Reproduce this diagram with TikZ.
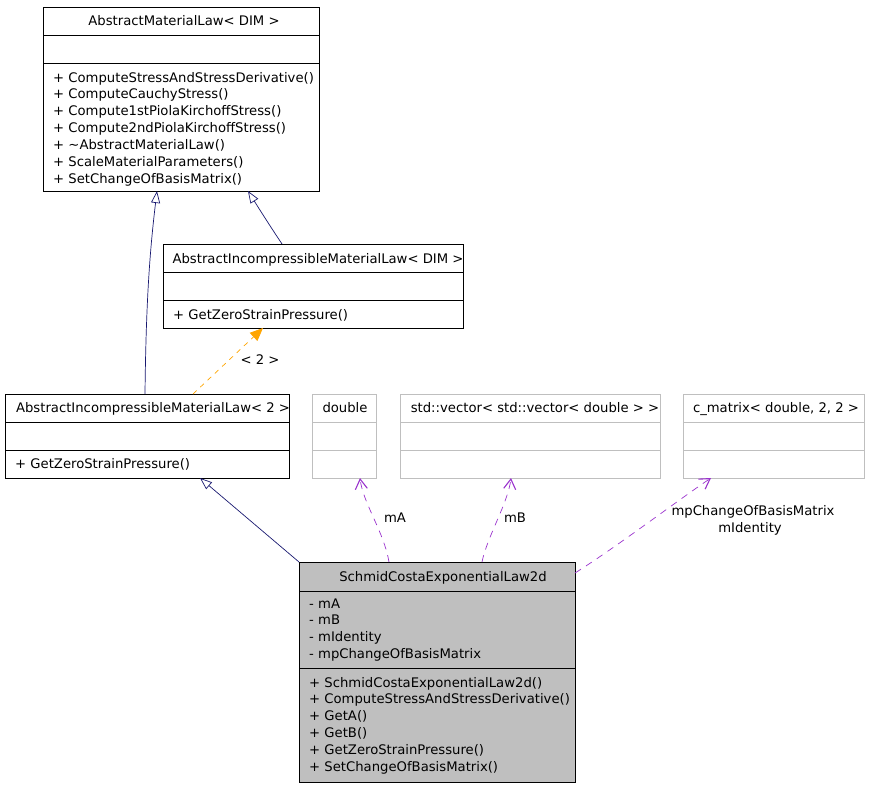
\documentclass[tikz,border=0pt]{standalone}
\usepackage{fontspec}
\setmainfont{DejaVu Sans}
\usetikzlibrary{arrows.meta,calc}
\definecolor{cinh}{HTML}{191970}
\definecolor{cuse}{HTML}{9A32CD}
\definecolor{ctpl}{HTML}{FFA500}
\definecolor{cext}{HTML}{BFBFBF}
\tikzset{
  % class boxes: doxygen style, black for documented, grey for external
  cls/.style={rectangle,draw=black,line width=0.9pt,outer sep=0pt,
    inner sep=0pt,anchor=north west},
  extcls/.style={cls,draw=cext},
  curcls/.style={cls,fill=cext},
  title/.style={anchor=base,inner sep=0pt},
  member/.style={anchor=base west,inner sep=0pt},
  lab/.style={anchor=base,inner sep=0pt},
  inherit/.style={cinh,line width=0.7pt,
    -{Triangle[open,length=12pt,width=9pt]}},
  uses/.style={cuse,line width=0.7pt,dash pattern=on 7pt off 6pt,
    -{Straight Barb[length=10pt,width=12pt,line width=1.1pt]}},
  templ/.style={ctpl,line width=0.7pt,dash pattern=on 5pt off 5pt,
    -{Triangle[length=13pt,width=11pt]}}
}

\begin{document}
\begin{tikzpicture}[x=1pt,y=-1pt,font=\fontsize{13.2}{16.9}\selectfont]
\useasboundingbox (0,0) rectangle (869,787);
% ---------------- class boxes ----------------
\node[cls,minimum width=276pt,minimum height=184pt] (aml) at (43,7) {};
\node[cls,minimum width=300pt,minimum height=84pt] (aiml) at (163,244) {};
\node[cls,minimum width=284pt,minimum height=84pt] (aiml2) at (5,394) {};
\node[extcls,minimum width=64pt,minimum height=84pt] (dbl) at (312,394) {};
\node[extcls,minimum width=260pt,minimum height=84pt] (vec) at (400,394) {};
\node[extcls,minimum width=181pt,minimum height=84pt] (cmat) at (683,394) {};
\node[curcls,minimum width=276pt,minimum height=220pt] (scel) at (299,562) {};
\foreach \b in {aml,aiml,aiml2}
  \draw[line width=0.9pt] ([yshift=-28pt]\b.north west) -- ([yshift=-28pt]\b.north east)
    ([yshift=-56pt]\b.north west) -- ([yshift=-56pt]\b.north east);
\foreach \b in {dbl,vec,cmat}
  \draw[cext,line width=0.9pt] ([yshift=-28pt]\b.north west) -- ([yshift=-28pt]\b.north east)
    ([yshift=-56pt]\b.north west) -- ([yshift=-56pt]\b.north east);
\draw[line width=0.9pt] ([yshift=-29pt]scel.north west) -- ([yshift=-29pt]scel.north east)
  ([yshift=-106pt]scel.north west) -- ([yshift=-106pt]scel.north east);
% ---------------- titles ----------------
\node[title] (aml-t) at (184,25) {AbstractMaterialLaw< DIM >};
\node[title] (aiml-t) at (318,263) {AbstractIncompressibleMaterialLaw< DIM >};
\node[title] (aiml2-t) at (153,412) {AbstractIncompressibleMaterialLaw< 2 >};
\node[title] (dbl-t) at (345,412) {double};
\node[title] (vec-t) at (535,412) {std::vector< std::vector< double > >};
\node[title] (cmat-t) at (776,412) {c\_matrix< double, 2, 2 >};
\node[title] (scel-t) at (443,581) {SchmidCostaExponentialLaw2d};
% ---------------- members ----------------
\foreach \txt [count=\k from 0] in {+ ComputeStressAndStressDerivative(),
    + ComputeCauchyStress(), + Compute1stPiolaKirchoffStress(),
    + Compute2ndPiolaKirchoffStress(), + \textasciitilde AbstractMaterialLaw(),
    + ScaleMaterialParameters(), + SetChangeOfBasisMatrix()}
  \node[member] (aml-op\k) at (53,82+16.9*\k) {\txt};
\node[member] (aiml-op0) at (173,319) {+ GetZeroStrainPressure()};
\node[member] (aiml2-op0) at (15,468) {+ GetZeroStrainPressure()};
\foreach \txt [count=\k from 0] in {- mA, - mB, - mIdentity, - mpChangeOfBasisMatrix}
  \node[member] (scel-at\k) at (309,608+16.9*\k) {\txt};
\foreach \txt [count=\k from 0] in {+ SchmidCostaExponentialLaw2d(),
    + ComputeStressAndStressDerivative(), + GetA(), + GetB(),
    + GetZeroStrainPressure(), + SetChangeOfBasisMatrix()}
  \node[member] (scel-op\k) at (309,687+16.9*\k) {\txt};
% ---------------- inheritance ----------------
\draw[inherit] ([xshift=140pt]aiml2.north west) .. controls +(1,-94) and +(-7,58)
  .. ([xshift=114pt]aml.south west);
\draw[inherit] ([xshift=119pt]aiml.north west) .. controls +(-12,-18) and +(10,16)
  .. ([xshift=205pt]aml.south west);
\draw[inherit] (scel.north west) -- ([xshift=195pt]aiml2.south west);
% ---------------- template instance ----------------
\draw[templ] ([xshift=188pt]aiml2.north west) -- ([xshift=100pt]aiml.south west);
\node[lab] (tpl-l) at (260,364) {< 2 >};
% ---------------- usage ----------------
\draw[uses] ([xshift=90pt]scel.north west) .. controls +(-5,-30) and +(3,25)
  .. ([xshift=48pt]dbl.south west);
\draw[uses] ([xshift=183pt]scel.north west) .. controls +(5,-25) and +(-3,25)
  .. ([xshift=111pt]vec.south west);
\draw[uses] ([yshift=-11pt]scel.north east) .. controls +(40,-25) and +(-30,20)
  .. ([xshift=28pt]cmat.south west);
\node[lab] (ma-l) at (395,522) {mA};
\node[lab] (mb-l) at (515,522) {mB};
\node[lab] (cob-l) at (753,515) {mpChangeOfBasisMatrix};
\node[lab] (id-l) at (750,532) {mIdentity};
\end{tikzpicture}
\end{document}
